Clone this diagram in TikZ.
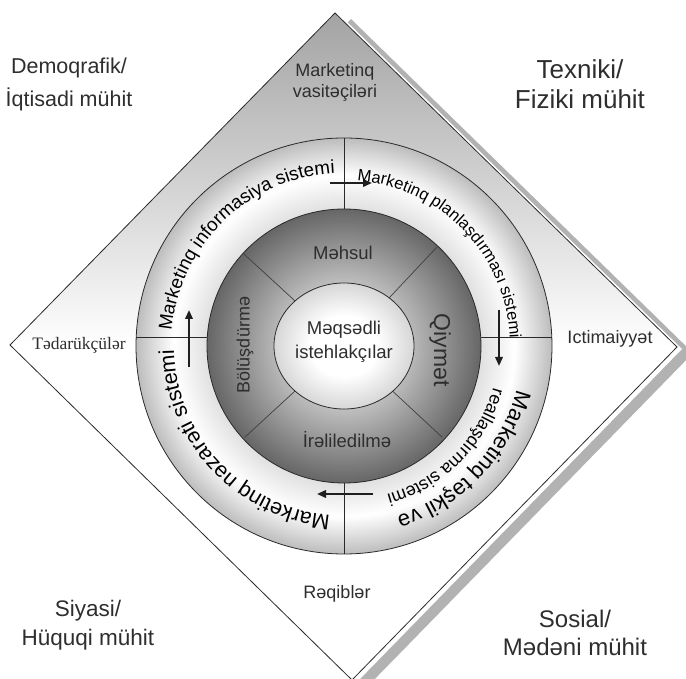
\documentclass[tikz,border=0pt]{standalone}
\usepackage{fontspec}
\setmainfont{Liberation Sans}
\newfontfamily\serifface{Liberation Serif}
\usetikzlibrary{arrows.meta,decorations.text,calc}

\definecolor{ink}{HTML}{2A2A2A}
% ring, sphere-like disk and bright core
\pgfdeclareradialshading{ringshade}{\pgfpointorigin}{color(0bp)=(white); color(16.5bp)=(black!12); color(20.5bp)=(white); color(25bp)=(black!26); color(50bp)=(black!26)}
\pgfdeclareradialshading{diskshade}{\pgfpointorigin}{color(0bp)=(white); color(11bp)=(black!24); color(18bp)=(black!42); color(25bp)=(black!60); color(50bp)=(black!60)}
\pgfdeclareradialshading{coreshade}{\pgfpointorigin}{color(0bp)=(white); color(12bp)=(white); color(25bp)=(black!16); color(50bp)=(black!16)}

\tikzset{
  outline/.style={draw=ink, line width=0.8pt},
  divider/.style={draw=ink, line width=1pt},
  spoke/.style={draw=ink!90, line width=0.7pt},
  flow/.style={draw=black!88, line width=2pt, -{Triangle[length=9pt,width=7.5pt]}},
  lbl/.style={inner sep=0pt, text=black!82, align=center},
  ringtext/.style={decorate, color=black!85},
}

\begin{document}
\begin{tikzpicture}[x=1pt,y=1pt]
\useasboundingbox (0,0) rectangle (686,678);
\fill[white] (0,0) rectangle (686,678);

\coordinate (c) at (344,332);
% outer square turned on its corner
\coordinate (dT) at (335,665);
\coordinate (dR) at (677,331);
\coordinate (dB) at (352,-2);
\coordinate (dL) at (10,333);

% drop shadow of the square
\fill[black!30] ([shift={(16,-6)}]dT) -- ([shift={(16,-6)}]dR) -- ([shift={(16,-6)}]dB) -- ([shift={(16,-6)}]dL) -- cycle;
\fill[white] ([shift={(5,-2)}]dT) -- ([shift={(5,-2)}]dR) -- ([shift={(5,-2)}]dB) -- ([shift={(5,-2)}]dL) -- cycle;
\path[outline, top color=black!36, bottom color=white, middle color=white] (dT) -- (dR) -- (dB) -- (dL) -- cycle;

% ring of the marketing systems
\path[outline, shading=ringshade] (c) circle[radius=208];
\draw[divider] ($(c)+(0,137)$) -- ($(c)+(0,208)$);
\draw[divider] ($(c)+(0,-137)$) -- ($(c)+(0,-208)$);
\draw[divider] ($(c)+(-207.8,8)$) -- ($(c)+(-136.8,8)$);
\draw[divider] ($(c)+(136.8,8)$) -- ($(c)+(207.8,8)$);

% marketing mix disk
\path[outline, shading=diskshade] (c) circle[radius=137];
\draw[spoke] (c) -- ($(c)+(137.4:137)$);
\draw[spoke] (c) -- ($(c)+(46.8:136)$);
\draw[spoke] (c) -- ($(c)+(222.6:135)$);
\draw[spoke] (c) -- ($(c)+(317.1:134)$);

% target consumers
\path[outline, shading=coreshade] (c) ellipse[x radius=70, y radius=63];

% flow arrows around the ring
\coordinate (a1s) at (330,495); \coordinate (a1e) at (372,495);
\coordinate (a2s) at (499,368); \coordinate (a2e) at (499,312);
\coordinate (a3s) at (373,184); \coordinate (a3e) at (317,184);
\coordinate (a4s) at (189,311); \coordinate (a4e) at (189,368);
\draw[flow] (a1s) -- (a1e);
\draw[flow] (a2s) -- (a2e);
\draw[flow] (a3s) -- (a3e);
\draw[flow] (a4s) -- (a4e);

% texts set along the ring
\path[ringtext, decoration={text along path, text align=center,
  text={|\fontsize{18.8}{20}\selectfont|Marketinq informasiya sistemi}}]
  ($(c)+(194:173)$) arc[start angle=194, end angle=74, radius=173];
\path[ringtext, decoration={text along path, text align=center,
  text={|\fontsize{16.5}{18}\selectfont|Marketinq planlaşdırması sistemi}}]
  ($(c)+(104:166)$) arc[start angle=104, end angle=-16, radius=166];
\path[ringtext, decoration={text along path, text align=center,
  text={|\fontsize{22}{24}\selectfont|Marketinq təşkil və}}]
  ($(c)+(16.5:178)$) arc[start angle=16.5, end angle=-103.5, radius=178];
\path[ringtext, decoration={text along path, text align=center,
  text={|\fontsize{17.8}{20}\selectfont|reallaşdırma sistemi}}]
  ($(c)+(15.2:155)$) arc[start angle=15.2, end angle=-104.8, radius=155];
\path[ringtext, decoration={text along path, text align=center,
  text={|\fontsize{21.5}{23}\selectfont|Marketinq nəzarəti sistemi}}]
  ($(c)+(-76.7:170)$) arc[start angle=-76.7, end angle=-196.7, radius=170];

% environment labels
\node[lbl, font=\fontsize{21.5}{33}\selectfont] (demo) at (69,594) {Demoqrafik/\\İqtisadi mühit};
\node[lbl, font=\fontsize{26}{30.5}\selectfont] (tex) at (580,594) {Texniki/\\Fiziki mühit};
\node[lbl, font=\fontsize{22.5}{29}\selectfont] (siy) at (88,53) {Siyasi/\\Hüquqi mühit};
\node[lbl, font=\fontsize{24}{28}\selectfont] (sos) at (575,45) {Sosial/\\Mədəni mühit};

% participants at the corners of the square
\node[lbl, font=\fontsize{18}{21.5}\selectfont] (vas) at (335,595.5) {Marketinq\\vasitəçiləri};
\node[lbl, font=\serifface\fontsize{17.5}{20}\selectfont] (ted) at (79,333) {Tədarükçülər};
\node[lbl, font=\fontsize{18}{20}\selectfont] (ict) at (610,339) {Ictimaiyyət};
\node[lbl, font=\fontsize{18}{20}\selectfont] (req) at (337,84) {Rəqiblər};

% marketing mix
\node[lbl, font=\fontsize{18.5}{20}\selectfont] (meh) at (343,425) {Məhsul};
\node[lbl, font=\fontsize{18.5}{23.5}\selectfont] (meq) at (344,336) {Məqsədli\\istehlakçılar};
\node[lbl, font=\fontsize{18.5}{20}\selectfont] (ire) at (347,238) {İrəliledilmə};
\node[lbl, font=\fontsize{18}{20}\selectfont, rotate=90] (bol) at (245,333) {Bölüşdürmə};
\node[lbl, font=\fontsize{23}{25}\selectfont, rotate=-90] (qiy) at (440,328) {Qiymət};
\end{tikzpicture}
\end{document}
